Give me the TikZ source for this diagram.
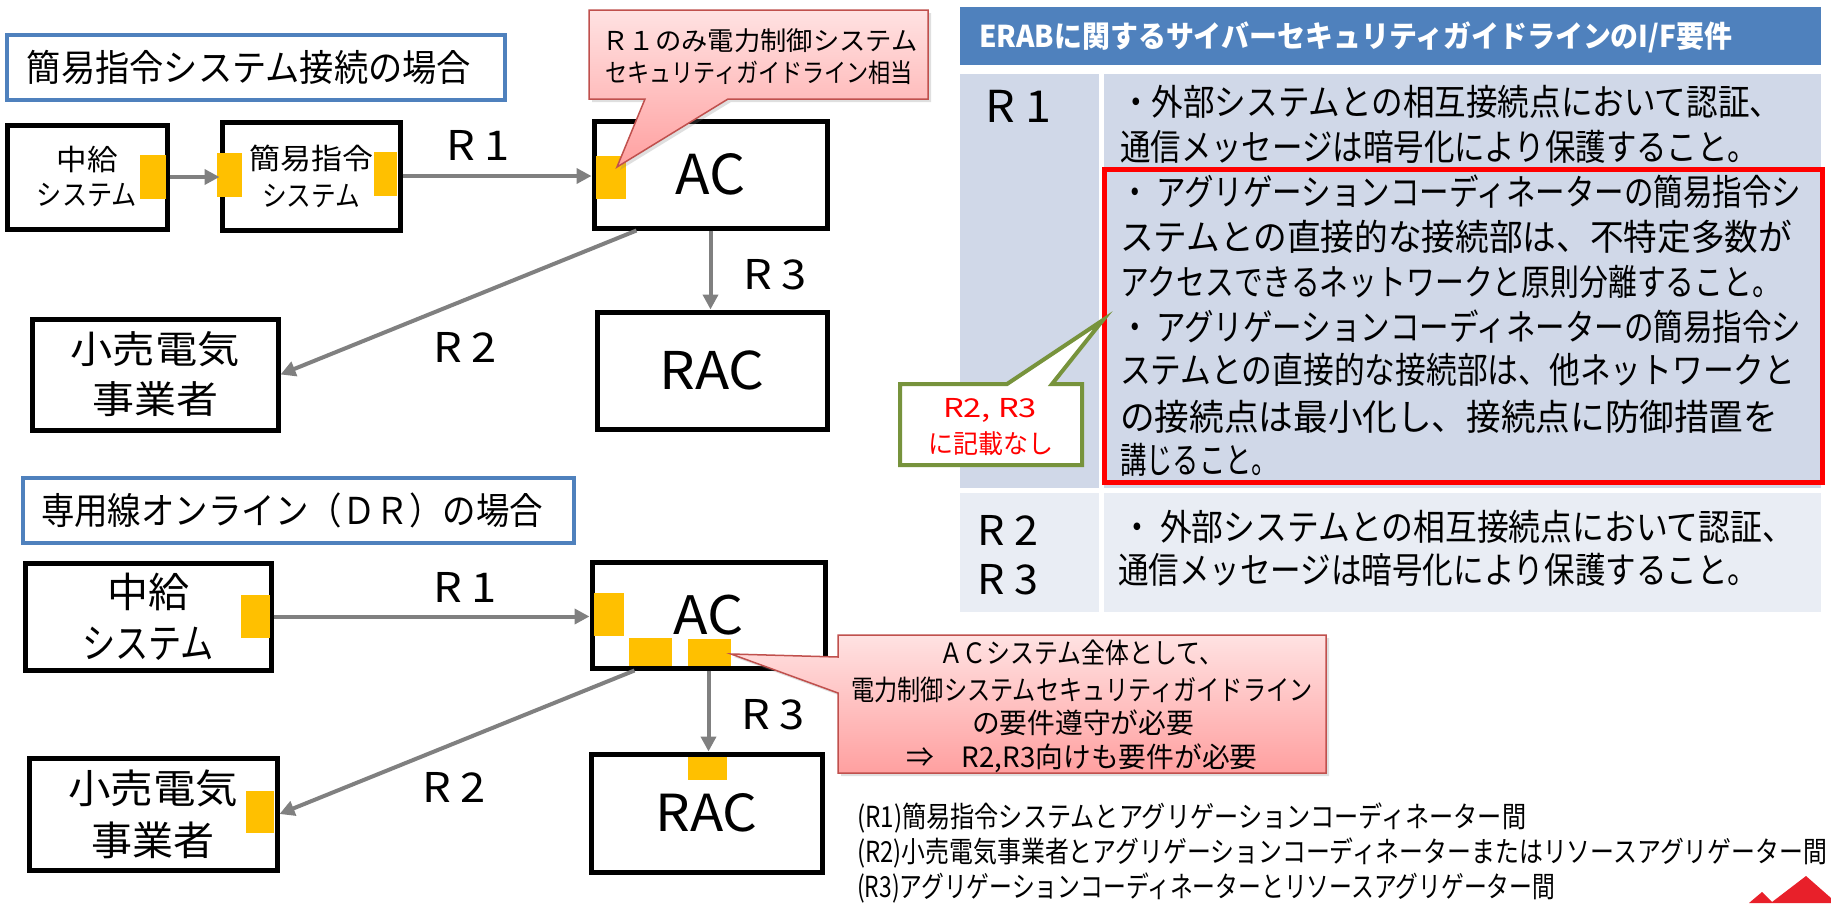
\documentclass[tikz,border=0pt]{standalone}
\usepackage{fontspec}
\setmainfont{Noto Sans CJK JP}
\usepackage{graphicx}
\usetikzlibrary{arrows.meta,shadows}
\definecolor{tblue}{HTML}{4F81BD}
\definecolor{rowa}{HTML}{D0D8E8}
\definecolor{rowb}{HTML}{E9EDF4}
\definecolor{ycol}{HTML}{FFC000}
\definecolor{agray}{HTML}{808080}
\definecolor{cbord}{HTML}{C0504D}
\definecolor{ctop}{HTML}{FFE2E2}
\definecolor{cbot}{HTML}{FFA0A0}
\definecolor{gbord}{HTML}{77933C}
\definecolor{logored}{HTML}{E8202A}
\newcommand\jw[3]{\resizebox{#1pt}{\height}{\fontsize{#2pt}{#2pt}\selectfont #3}}
\begin{document}
\begin{tikzpicture}[x=1pt,y=-1pt,
  box/.style={draw=black,line width=5pt,fill=white,inner sep=0pt,align=center},
  ttl/.style={draw=tblue,line width=4pt,fill=white,inner sep=0pt},
  yel/.style={fill=ycol},
  conn/.style={draw=agray,line width=4pt,-{Triangle[length=15pt,width=15pt]}},
  txt/.style={inner sep=0pt,text=black},
  callout/.style={draw=cbord,line width=1.5pt,top color=ctop,bottom color=cbot,
    drop shadow={opacity=0.25,shadow xshift=3pt,shadow yshift=-3pt}},
]
\useasboundingbox (0,0) rectangle (1831,903);
\fill[white] (0,0) rectangle (1831,903);

% ---------- upper diagram ----------
\node[ttl,minimum width=498pt,minimum height=65pt] (t1) at (256,67.5) {};
\node[txt] (t1t) at (249,67) {\jw{444}{37}{簡易指令システム接続の場合}};

\node[box,minimum width=160pt,minimum height=104pt,font=\fontsize{29pt}{35pt}\selectfont] (c1) at (87,177) {\jw{61}{29}{中給}\\\jw{100}{29}{システム}};
\node[box,minimum width=178pt,minimum height=108pt,font=\fontsize{29pt}{37pt}\selectfont] (k1) at (311,176) {\jw{124}{29}{簡易指令}\\\jw{98}{29}{システム}};
\node[box,minimum width=233pt,minimum height=107pt] (ac1) at (710.5,174.5) {\jw{70}{55}{AC}};
\node[box,minimum width=230pt,minimum height=117pt] (rac1) at (712,370.5) {\jw{105}{52}{RAC}};
\node[box,minimum width=246pt,minimum height=111pt,font=\fontsize{38pt}{50pt}\selectfont] (kouri1) at (155,374.5) {\jw{169}{38}{小売電気}\\\jw{126}{38}{事業者}};

\fill[yel] (140,155) rectangle (166,199);
\fill[yel] (217,153) rectangle (242,197);
\fill[yel] (374,152) rectangle (397,196);
\fill[yel] (596,156) rectangle (626,199);

\draw[conn] (c1.east) -- (c1.east -| k1.west);
\draw[conn] (k1.east) -- (k1.east -| ac1.west);
\draw[conn] ([xshift=45pt]ac1.south west) -- (kouri1.east);
\draw[conn] (ac1.south) -- (ac1.south |- rac1.north);

\node[txt] (lr1a) at (478,145) {\jw{64}{41}{R 1}};
\node[txt] (lr2a) at (465,347) {\jw{64}{41}{R 2}};
\node[txt] (lr3a) at (775,275) {\jw{64}{41}{R 3}};

% callout 1
\path[callout] (589,10) -- (928,10) -- (928,99) -- (728,99) -- (617,167) -- (645,99) -- (589,99) -- cycle;
\node[txt] (co1a) at (760,41) {\jw{315}{26}{Ｒ１のみ電力制御システム}};
\node[txt] (co1b) at (759,73) {\jw{308}{26}{セキュリティガイドライン相当}};

% ---------- lower diagram ----------
\node[ttl,minimum width=551pt,minimum height=65pt] (t2) at (298.5,510.5) {};
\node[txt] (t2t) at (292,510) {\jw{502}{37}{専用線オンライン（ＤＲ）の場合}};

\node[box,minimum width=246pt,minimum height=107pt,font=\fontsize{41pt}{51pt}\selectfont] (c2) at (148,616.5) {\jw{82}{41}{中給}\\\jw{132}{41}{システム}};
\node[box,minimum width=233pt,minimum height=106pt] (ac2) at (708.5,615) {\jw{70}{53}{AC}};
\node[box,minimum width=231pt,minimum height=118pt] (rac2) at (706.5,813) {\jw{102}{51}{RAC}};
\node[box,minimum width=248pt,minimum height=112pt,font=\fontsize{40pt}{52pt}\selectfont] (kouri2) at (153,814) {\jw{170}{40}{小売電気}\\\jw{123}{40}{事業者}};

\fill[yel] (241,595) rectangle (270,638);
\fill[yel] (594,593) rectangle (624,636);
\fill[yel] (629,638) rectangle (672,666);
\fill[yel] (688,639) rectangle (731,666);
\fill[yel] (246,791) rectangle (274,833);
\fill[yel] (688,757) rectangle (727,780);

\draw[conn] (c2.east) -- (c2.east -| ac2.west);
\draw[conn] ([xshift=45pt]ac2.south west) -- (kouri2.east);
\draw[conn] (ac2.south) -- (ac2.south |- rac2.north);

\node[txt] (lr1b) at (465,587) {\jw{64}{41}{R 1}};
\node[txt] (lr2b) at (454,787) {\jw{64}{41}{R 2}};
\node[txt] (lr3b) at (773,715) {\jw{64}{41}{R 3}};

% ---------- table ----------
\fill[tblue] (960,7) rectangle (1821,65);
\fill[rowa] (960,74) rectangle (1099,488);
\fill[rowa] (1104,74) rectangle (1821,488);
\fill[rowb] (960,493) rectangle (1099,612);
\fill[rowb] (1104,493) rectangle (1821,612);
\node[txt,text=white,anchor=west] (hdr) at (979,37) {\jw{753}{30}{\bfseries ERABに関するサイバーセキュリティガイドラインのI/F要件}};

\node[txt] (tr1) at (1018,106) {\jw{66}{44}{R 1}};
\node[txt] (tr2) at (1008,530) {\jw{61}{41}{R 2}};
\node[txt] (tr3) at (1008,580) {\jw{61}{41}{R 3}};

\node[txt,anchor=west] (ra) at (1120,102) {\jw{661}{36}{・外部システムとの相互接続点において認証、}};
\node[txt,anchor=west] (rb) at (1120,147) {\jw{638}{36}{通信メッセージは暗号化により保護すること。}};

\draw[red,line width=5pt] (1104,169) rectangle (1822,482);
\node[txt,anchor=west] (rx1) at (1120,192) {\jw{681}{36}{・ アグリゲーションコーディネーターの簡易指令シ}};
\node[txt,anchor=west] (rx2) at (1120,237) {\jw{672}{36}{ステムとの直接的な接続部は、不特定多数が}};
\node[txt,anchor=west] (rx3) at (1120,282) {\jw{661}{36}{アクセスできるネットワークと原則分離すること。}};
\node[txt,anchor=west] (rx4) at (1120,327) {\jw{681}{36}{・ アグリゲーションコーディネーターの簡易指令シ}};
\node[txt,anchor=west] (rx5) at (1120,370) {\jw{675}{36}{ステムとの直接的な接続部は、他ネットワークと}};
\node[txt,anchor=west] (rx6) at (1120,417) {\jw{658}{36}{の接続点は最小化し、接続点に防御措置を}};
\node[txt,anchor=west] (rx7) at (1120,460) {\jw{158}{36}{講じること。}};

\node[txt,anchor=west] (rc) at (1121,527) {\jw{673}{36}{・ 外部システムとの相互接続点において認証、}};
\node[txt,anchor=west] (rd) at (1118,570) {\jw{640}{36}{通信メッセージは暗号化により保護すること。}};

% green callout
\filldraw[draw=gbord,fill=white,line width=4pt,line join=miter] (900,384) -- (1007,384) -- (1103,320) -- (1052,384) -- (1082,384) -- (1082,465) -- (900,465) -- cycle;
\node[txt,text=red] (ga) at (990,410) {\jw{94}{26}{R2, R3}};
\node[txt,text=red] (gb) at (991,444) {\jw{125}{26}{に記載なし}};

% callout 2
\path[callout] (838,635) -- (1326,635) -- (1326,773) -- (838,773) -- (838,693) -- (731,654) -- (838,657) -- cycle;
\node[txt] (co2a) at (1081,653) {\jw{284}{28}{ＡＣシステム全体として、}};
\node[txt] (co2b) at (1082,690) {\jw{461}{28}{電力制御システムセキュリティガイドライン}};
\node[txt] (co2c) at (1083,723) {\jw{222}{28}{の要件遵守が必要}};
\node[txt] (co2d) at (1082,758) {\jw{351}{28}{⇒　R2,R3向けも要件が必要}};

% footnotes
\node[txt,anchor=west] (f1) at (857,818) {\jw{669}{29}{(R1)簡易指令システムとアグリゲーションコーディネーター間}};
\node[txt,anchor=west] (f2) at (857,853) {\jw{970}{29}{(R2)小売電気事業者とアグリゲーションコーディネーターまたはリソースアグリゲーター間}};
\node[txt,anchor=west] (f3) at (857,888) {\jw{698}{29}{(R3)アグリゲーションコーディネーターとリソースアグリゲーター間}};

% logo fragment
\fill[logored] (1749,903) -- (1762,892) -- (1772,902) -- (1806,876) -- (1831,898) -- (1831,903) -- cycle;
\end{tikzpicture}
\end{document}
